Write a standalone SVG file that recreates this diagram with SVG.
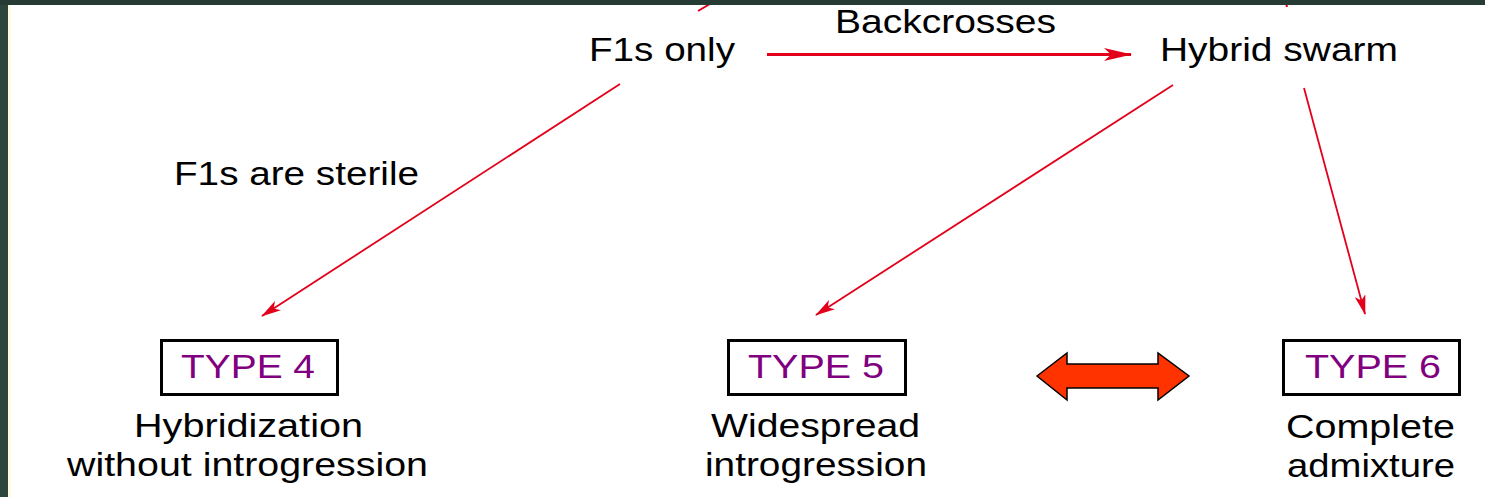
<svg xmlns="http://www.w3.org/2000/svg" width="1485" height="497" viewBox="0 0 1485 497">
  <style>
    .lbl { font-family: "Liberation Sans", Arial, sans-serif; font-size: 33px; fill: #000; }
    .type { font-family: "Liberation Sans", Arial, sans-serif; font-size: 33px; fill: #800080; }
    .box { fill: #fff; stroke: #000; stroke-width: 3; }
    .link { stroke: #e2001a; fill: none; }
  </style>
  <defs>
    <marker id="head" viewBox="0 0 28 13" refX="27" refY="6.5" markerWidth="28" markerHeight="13" markerUnits="userSpaceOnUse" orient="auto">
      <path d="M0,0 L28,6.5 L0,13 L7,6.5 z" fill="#e2001a"/>
    </marker>
    <marker id="headS" viewBox="0 0 20 11" refX="19" refY="5.5" markerWidth="20" markerHeight="11" markerUnits="userSpaceOnUse" orient="auto">
      <path d="M0,0 L20,5.5 L0,11 L5,5.5 z" fill="#e2001a"/>
    </marker>
  </defs>

  <!-- page background and frame -->
  <rect x="0" y="0" width="1485" height="497" fill="#fff"/>
  <rect x="8" y="0" width="3" height="497" fill="#fffbe3"/>

  <!-- connectors -->
  <g id="connectors">
    <line class="link" x1="698" y1="11" x2="720" y2="-2" stroke-width="2"/>
    <line class="link" x1="1287" y1="7" x2="1285" y2="-2" stroke-width="2"/>
    <line class="link" x1="767" y1="54.5" x2="1131" y2="54.5" stroke-width="3" marker-end="url(#head)"/>
    <line class="link" x1="620" y1="84" x2="262" y2="316" stroke-width="1.8" marker-end="url(#headS)"/>
    <line class="link" x1="1173" y1="85" x2="816" y2="315" stroke-width="1.8" marker-end="url(#headS)"/>
    <line class="link" x1="1304" y1="88" x2="1365" y2="314" stroke-width="1.8" marker-end="url(#headS)"/>
  </g>

  <g id="f1s-only">
    <text class="lbl" x="589" y="61" textLength="146" lengthAdjust="spacingAndGlyphs">F1s only</text>
  </g>
  <g id="backcrosses-label">
    <text class="lbl" x="835" y="33" textLength="221" lengthAdjust="spacingAndGlyphs">Backcrosses</text>
  </g>
  <g id="hybrid-swarm">
    <text class="lbl" x="1160" y="61" textLength="238" lengthAdjust="spacingAndGlyphs">Hybrid swarm</text>
  </g>
  <g id="sterile-label">
    <text class="lbl" x="174" y="185" textLength="245" lengthAdjust="spacingAndGlyphs">F1s are sterile</text>
  </g>

  <g id="type4">
    <rect class="box" x="161.5" y="340.5" width="176" height="54"/>
    <text class="type" x="181" y="378" textLength="134" lengthAdjust="spacingAndGlyphs">TYPE 4</text>
    <text class="lbl" x="134" y="437" textLength="229" lengthAdjust="spacingAndGlyphs">Hybridization</text>
    <text class="lbl" x="67" y="476" textLength="361" lengthAdjust="spacingAndGlyphs">without introgression</text>
  </g>

  <g id="type5">
    <rect class="box" x="728.5" y="340.5" width="177" height="54"/>
    <text class="type" x="748" y="378" textLength="136" lengthAdjust="spacingAndGlyphs">TYPE 5</text>
    <text class="lbl" x="711" y="437" textLength="209" lengthAdjust="spacingAndGlyphs">Widespread</text>
    <text class="lbl" x="705" y="476" textLength="222" lengthAdjust="spacingAndGlyphs">introgression</text>
  </g>

  <g id="type6">
    <rect class="box" x="1283.5" y="340.5" width="176" height="54"/>
    <text class="type" x="1305" y="378" textLength="136" lengthAdjust="spacingAndGlyphs">TYPE 6</text>
    <text class="lbl" x="1286" y="438" textLength="169" lengthAdjust="spacingAndGlyphs">Complete</text>
    <text class="lbl" x="1287" y="477" textLength="168" lengthAdjust="spacingAndGlyphs">admixture</text>
  </g>

  <!-- two-way arrow between types 5 and 6 -->
  <g id="two-way-arrow">
    <path d="M1037,376 L1067,353 L1067,364 L1158,364 L1158,353 L1189,376 L1158,400 L1158,388 L1067,388 L1067,400 Z" fill="#ff3300" stroke="#000" stroke-width="1.5" stroke-linejoin="miter"/>
  </g>

  <!-- frame edges -->
  <rect x="0" y="0" width="8" height="497" fill="#2d463c"/>
  <rect x="0" y="0" width="1485" height="5" fill="#253b33"/>
</svg>
